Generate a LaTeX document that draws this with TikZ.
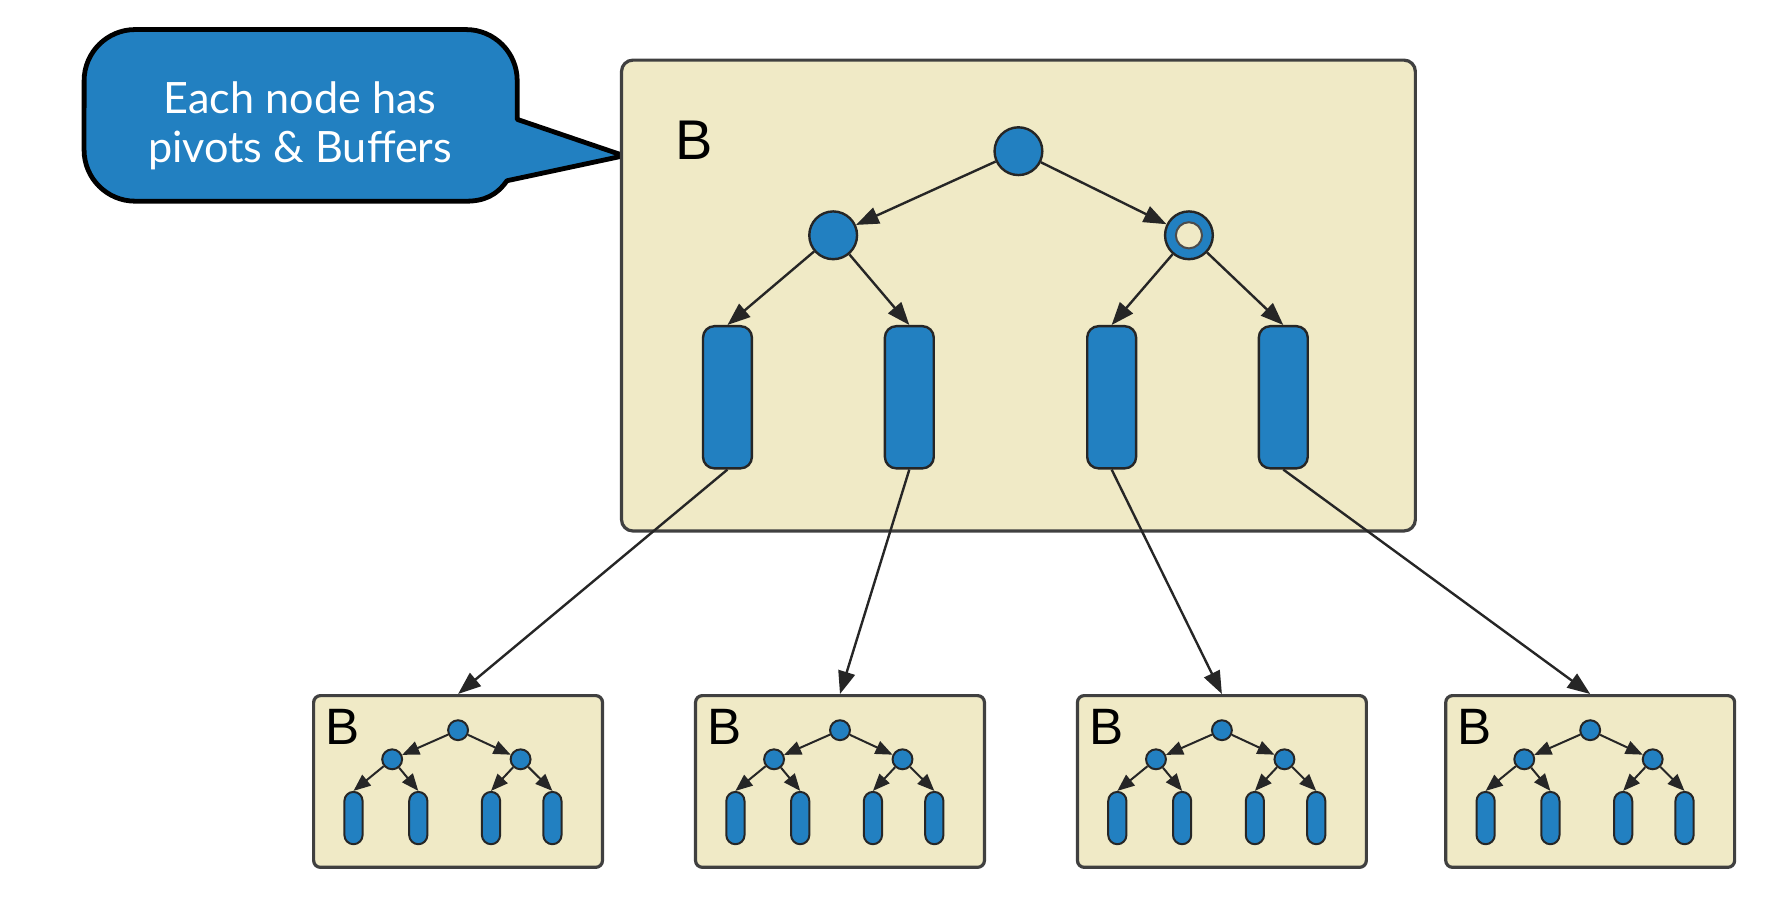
\documentclass[tikz,border=0pt]{standalone}
\usepackage{fontspec}
\setmainfont{Liberation Sans}
\newfontfamily\calloutfont{Lato}
\usetikzlibrary{arrows.meta}
\definecolor{pivotblue}{HTML}{2280C1}
\definecolor{boxsand}{HTML}{F0EAC6}
\begin{document}
\begin{tikzpicture}[x=0.01cm, y=-0.01cm,
        box/.style = { draw=black!75, fill=boxsand, line width=0.8pt, rounded corners=0.1cm},
        pivot/.style = { circle, draw=black!85, fill=pivotblue, line width=0.6pt, inner sep=0pt, minimum size=0.42cm},
        holed/.style = { pivot, path picture={\draw[black!70, fill=boxsand, line width=0.5pt] (path picture bounding box.center) circle(0.115cm);}},
        buffer/.style = { rectangle, draw=black!85, fill=pivotblue, line width=0.6pt, rounded corners=0.1cm, inner sep=0pt, minimum width=0.43cm, minimum height=1.25cm},
        spivot/.style = { pivot, minimum size=0.175cm, line width=0.5pt},
        sbuffer/.style = { buffer, rounded corners=0.08cm, minimum width=0.16cm, minimum height=0.46cm, line width=0.5pt},
        arr/.style = { -{Triangle[length=0.2cm, width=0.15cm]}, line width=0.6pt, black!85},
        sarr/.style = { -{Triangle[length=0.15cm, width=0.12cm]}, line width=0.5pt, black!85},
        callout/.style = { draw=black, fill=pivotblue, line width=1.2pt, line join=round}]
    \useasboundingbox (0,0) rectangle (1566,796);
    \draw[callout] (119,26) -- (410,26) arc[start angle=90, end angle=0, radius=0.45cm] -- (455,105) -- (549,137) -- (446,159) to[out=-125, in=0] (410,177) -- (119,177) arc[start angle=270, end angle=180, radius=0.45cm] -- (74,71) arc[start angle=180, end angle=90, radius=0.45cm] -- cycle;
    \node[align=center, text=white, font=\calloutfont\fontsize{10.8}{12.2}\selectfont] (note) at (264,111) {Each node has\\pivots \& Buffers};

    \node[box, minimum width=6.98cm, minimum height=4.14cm] (bigbox) at (896,260) {};
    \node[font=\fontsize{14}{14}\selectfont] (biglabel) at (610.5,123) {B};
    \node[pivot] (root) at (896,133) {};
    \node[pivot] (left) at (733,207) {};
    \node[holed] (right) at (1046,207) {};
    \node[buffer] (b1) at (640,349.5) {};
    \node[buffer] (b2) at (800,349.5) {};
    \node[buffer] (b3) at (978,349.5) {};
    \node[buffer] (b4) at (1129,349.5) {};
    \draw[arr] (root) -- (left);
    \draw[arr] (root) -- (right);
    \draw[arr] (left) -- (b1.north);
    \draw[arr] (left) -- (b2.north);
    \draw[arr] (right) -- (b3.north);
    \draw[arr] (right) -- (b4.north);

    \foreach \x [count=\i] in {403,739,1075,1399} {
        \node[box, rounded corners=0.06cm, minimum width=2.54cm, minimum height=1.51cm] (smallbox\i) at (\x,687.5) {};
        \node[font=\fontsize{12.8}{14}\selectfont] (smalllabel\i) at (\x-101.5,639.5) {B};
        \node[spivot] (sroot\i) at (\x,642.4) {};
        \node[spivot] (sleft\i) at (\x-58,668) {};
        \node[spivot] (sright\i) at (\x+55,668) {};
        \node[sbuffer] (sbufa\i) at (\x-92,719.7) {};
        \node[sbuffer] (sbufb\i) at (\x-35,719.7) {};
        \node[sbuffer] (sbufc\i) at (\x+29,719.7) {};
        \node[sbuffer] (sbufd\i) at (\x+83,719.7) {};
        \draw[sarr] (sroot\i) -- (sleft\i);
        \draw[sarr] (sroot\i) -- (sright\i);
        \draw[sarr] (sleft\i) -- (sbufa\i.north);
        \draw[sarr] (sleft\i) -- (sbufb\i.north);
        \draw[sarr] (sright\i) -- (sbufc\i.north);
        \draw[sarr] (sright\i) -- (sbufd\i.north);
        \draw[arr] (b\i.south) -- (smallbox\i.north);
    }
\end{tikzpicture}
\end{document}
